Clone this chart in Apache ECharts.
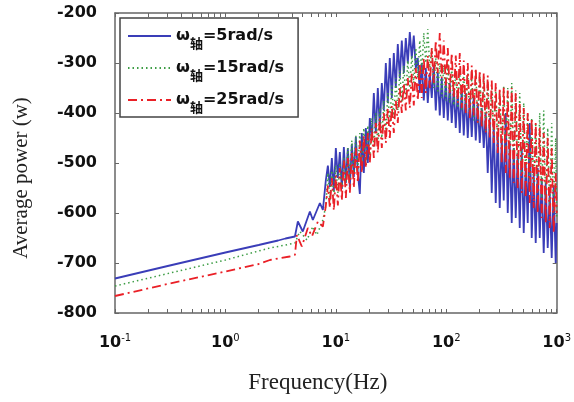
<!DOCTYPE html>
<html>
<head>
<meta charset="utf-8">
<script src="https://cdn.jsdelivr.net/npm/echarts@6/dist/echarts.min.js"></script>
<style>html,body{margin:0;padding:0;background:#fff}#c{width:574px;height:402px}</style>
</head>
<body>
<div id="c"></div>
<script>
// ---- data ----
const seriesNames = ['ω轴=5rad/s', 'ω轴=15rad/s', 'ω轴=25rad/s'];
const xTickLabels = [0.1, 1, 10, 100, 1000];
const xTickMarks = [0.1,0.2,0.3,0.4,0.5,0.6,0.7,0.8,0.9,1,2,3,4,5,6,7,8,9,10,20,30,40,50,60,70,80,90,100,200,300,400,500,600,700,800,900,1000];

// smooth low-frequency part
const freqSmooth5  = [0.1, 0.3, 1, 2, 2.5, 3, 3.5, 4.26, 4.53, 5.02, 5.82, 6.19, 7.17, 7.63];
const powerSmooth5 = [-731, -706, -679, -664, -659, -655, -651, -647, -617, -637, -597, -614, -580, -594];
const freqSmooth15  = [0.1, 1, 2, 2.53, 3.5, 4.26, 4.72, 5.47, 6.19, 6.73, 7.63];
const powerSmooth15 = [-746, -694, -676, -670, -664, -660, -637, -654, -627, -644, -614];
const freqSmooth25  = [0.1, 0.3, 1, 2, 2.53, 3.83, 4.26, 4.44, 4.92, 5.58, 6.07, 6.88, 7.63];
const powerSmooth25 = [-766, -742, -717, -702, -694, -687, -684, -644, -667, -630, -647, -617, -627];

// noisy high-frequency part (shared frequencies)
const freqNoisy = [8.12,8.47,8.83,9.20,9.59,10.0,10.43,10.87,11.33,11.82,12.32,12.84,13.39,13.96,14.55,15.17,15.82,16.49,17.19,17.92,
18.69,19.48,20.31,21.18,22.08,23.01,23.99,25.02,26.08,27.19,28.35,29.55,30.81,32.12,33.49,34.91,36.40,37.95,39.56,41.25,
43.00,44.83,46.74,48.73,50.80,52.97,55.22,57.57,60.02,62.57,65.23,68.01,70.90,73.92,77.06,80.35,83.77,87.33,91.05,94.93,
98.97,103.2,107.6,112.1,116.9,121.9,127.1,132.5,138.1,144.0,150.1,156.5,163.2,170.1,177.4,184.9,192.8,201.0,209.5,218.5,
227.8,237.4,247.5,258.1,269.1,280.5,292.5,304.9,317.9,331.4,345.6,360.3,375.6,391.6,408.3,425.6,443.8,462.7,482.4,502.9,
524.3,546.6,569.9,594.1,619.4,645.7,673.2,701.9,731.8,762.9,795.4,829.3,864.6,901.4,939.6,979.5,1000];

const powerNoisy5 = [-534,-505,-548,-490,-556,-470,-530,-478,-552,-468,-540,-470,-548,-462,-528,-448,-520,-562,-440,-520,
-430,-500,-410,-455,-360,-440,-350,-430,-340,-395,-300,-380,-290,-370,-280,-350,-262,-330,-255,-320,
-250,-300,-238,-290,-245,-310,-290,-360,-300,-375,-310,-380,-320,-370,-305,-395,-320,-405,-330,-410,
-335,-415,-340,-420,-350,-430,-355,-440,-350,-445,-360,-450,-370,-448,-365,-455,-380,-460,-390,-470,
-400,-520,-410,-560,-420,-580,-440,-590,-450,-575,-400,-600,-460,-620,-470,-610,-480,-630,-470,-640,
-500,-620,-420,-650,-520,-660,-510,-650,-530,-680,-540,-670,-560,-690,-545,-700,-620];

const powerNoisy15 = [-585,-520,-575,-515,-565,-505,-560,-500,-550,-490,-540,-470,-530,-455,-520,-445,-515,-440,-500,-430,
-505,-425,-490,-410,-470,-400,-460,-390,-450,-375,-440,-360,-420,-345,-410,-330,-395,-315,-380,-305,
-370,-295,-350,-285,-340,-270,-330,-255,-320,-240,-300,-232,-310,-270,-350,-290,-360,-300,-370,-305,
-375,-300,-380,-310,-385,-315,-390,-320,-395,-325,-400,-320,-410,-330,-415,-315,-420,-320,-425,-330,
-440,-340,-445,-350,-450,-355,-460,-360,-470,-345,-480,-350,-490,-340,-500,-355,-510,-360,-520,-380,
-530,-400,-540,-410,-550,-420,-560,-400,-570,-395,-580,-430,-590,-420,-600,-450,-610];

const powerNoisy25 = [-585,-545,-590,-530,-595,-525,-585,-510,-575,-495,-570,-490,-560,-480,-550,-470,-540,-455,-520,-445,
-510,-440,-500,-430,-490,-420,-480,-410,-470,-400,-460,-390,-450,-385,-440,-375,-420,-350,-400,-340,
-395,-330,-390,-320,-385,-310,-375,-300,-370,-290,-360,-285,-350,-270,-340,-255,-320,-240,-330,-255,
-345,-270,-360,-280,-370,-285,-380,-280,-390,-295,-400,-300,-410,-305,-405,-310,-420,-315,-430,-320,
-440,-325,-450,-335,-460,-340,-480,-350,-500,-348,-520,-355,-530,-350,-540,-360,-550,-380,-560,-390,
-570,-400,-580,-410,-590,-420,-600,-430,-610,-440,-620,-450,-630,-470,-640,-520,-600];

function pairs(fs, ps) { return fs.map((f, i) => [f, ps[i]]); }
const data5  = pairs(freqSmooth5, powerSmooth5).concat(pairs(freqNoisy, powerNoisy5));
const data15 = pairs(freqSmooth15, powerSmooth15).concat(pairs(freqNoisy, powerNoisy15));
const data25 = pairs(freqSmooth25, powerSmooth25).concat(pairs(freqNoisy, powerNoisy25));

const chart = echarts.init(document.getElementById('c'), null, {renderer: 'canvas'});
const axisColor = '#666';
chart.setOption({
  animation: false,
  backgroundColor: '#fff',
  grid: {left: 115, right: 17, top: 13, bottom: 89, containLabel: false},
  legend: {
    orient: 'vertical', left: 120, top: 18,
    padding: [4, 14, 3, 7], itemGap: 4, itemWidth: 43, itemHeight: 14,
    borderColor: '#444', borderWidth: 1.5, backgroundColor: '#fff',
    data: seriesNames,
    itemStyle: {color: 'rgba(0,0,0,0)', borderWidth: 0, opacity: 0},
    formatter: n => '{w|ω}{s|轴}{t|' + n.slice(2) + '}',
    textStyle: {
      color: '#111',
      rich: {
        w: {fontSize: 16, fontWeight: 'bold', fontFamily: 'DejaVu Sans', verticalAlign: 'middle', lineHeight: 20},
        s: {fontSize: 13, fontFamily: 'Noto Sans CJK SC', fontWeight: 'bold', lineHeight: 13, padding: [15, 0, 0, 0], verticalAlign: 'middle'},
        t: {fontSize: 16, fontWeight: 'bold', fontFamily: 'DejaVu Sans', verticalAlign: 'middle', lineHeight: 20}
      }
    }
  },
  xAxis: [{
    type: 'log', logBase: 10, min: 0.1, max: 1000, position: 'bottom',
    name: 'Frequency(Hz)', nameLocation: 'middle', nameGap: 58,
    nameTextStyle: {fontFamily: 'Liberation Serif', fontSize: 23, color: '#222', padding: [0, 36, 0, 0]},
    axisLine: {show: true, lineStyle: {color: axisColor, width: 1.5}},
    axisTick: {show: true, inside: true, length: 4, lineStyle: {color: axisColor}, customValues: xTickMarks},
    axisLabel: {
      margin: 20, customValues: xTickLabels,
      formatter: v => '{b|10}{s|' + String(Math.round(Math.log10(v))) + '}',
      rich: {
        b: {fontSize: 16, fontWeight: 'bold', fontFamily: 'DejaVu Sans', color: '#111', verticalAlign: 'middle'},
        s: {fontSize: 10, fontFamily: 'DejaVu Sans', color: '#111', verticalAlign: 'middle', padding: [0, 0, 9, 0]}
      }
    },
    splitLine: {show: false}
  }, {
    type: 'log', logBase: 10, min: 0.1, max: 1000, position: 'top',
    axisLine: {show: true, lineStyle: {color: axisColor, width: 1.5}},
    axisTick: {show: true, inside: true, length: 4, lineStyle: {color: axisColor}, customValues: xTickMarks},
    axisLabel: {show: false}, splitLine: {show: false}
  }],
  yAxis: [{
    type: 'value', min: -800, max: -200, interval: 100, position: 'left',
    name: 'Average power (w)', nameLocation: 'middle', nameGap: 83, nameRotate: 90,
    nameTextStyle: {fontFamily: 'Liberation Serif', fontSize: 21, color: '#222', padding: [0, 30, 0, 0]},
    axisLine: {show: true, lineStyle: {color: axisColor, width: 1.5}},
    axisTick: {show: true, inside: true, length: 4, lineStyle: {color: axisColor}},
    axisLabel: {margin: 18, fontSize: 16, fontWeight: 'bold', fontFamily: 'DejaVu Sans', color: '#111'},
    splitLine: {show: false}
  }, {
    type: 'value', min: -800, max: -200, interval: 100, position: 'right',
    axisLine: {show: true, lineStyle: {color: axisColor, width: 1.5}},
    axisTick: {show: true, inside: true, length: 4, lineStyle: {color: axisColor}},
    axisLabel: {show: false}, splitLine: {show: false}
  }],
  series: [
    {name: seriesNames[0], type: 'line', data: data5, symbol: 'none', xAxisIndex: 0, yAxisIndex: 0,
     lineStyle: {color: '#3a3db8', width: 1.8, type: 'solid'}, itemStyle: {color: '#3a3db8'}},
    {name: seriesNames[1], type: 'line', data: data15, symbol: 'none', xAxisIndex: 0, yAxisIndex: 0,
     lineStyle: {color: '#3d9d45', width: 1.5, type: [1.5, 3]}, itemStyle: {color: '#3d9d45'}},
    {name: seriesNames[2], type: 'line', data: data25, symbol: 'none', xAxisIndex: 0, yAxisIndex: 0,
     lineStyle: {color: '#ea2027', width: 1.8, type: [9, 4, 2, 4]}, itemStyle: {color: '#ea2027'}}
  ]
});
</script>
</body>
</html>
